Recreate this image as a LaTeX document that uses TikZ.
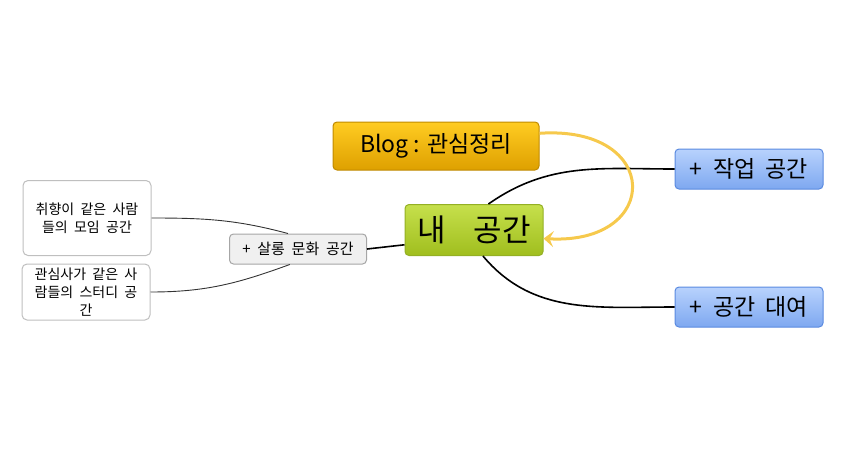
\documentclass[tikz,border=0pt]{standalone}
\usepackage{fontspec}
\setmainfont{Noto Sans CJK KR}
\usetikzlibrary{arrows.meta, positioning, calc}
\definecolor{topicline}{HTML}{94B024}
\definecolor{blogline}{HTML}{C08A00}
\definecolor{subline}{HTML}{5A8AE0}
\definecolor{relcolor}{HTML}{F6C94C}
\newcommand{\gap}{\hspace{0.45em}}

\tikzset{
  centerbox/.style={draw=topicline, line width=1pt, rounded corners=4pt, top color={rgb,255:red,198;green,224;blue,76}, bottom color={rgb,255:red,160;green,190;blue,30},
    minimum width=138pt, minimum height=51pt, inner sep=0pt, font=\fontsize{31}{34}\selectfont},
  blogbox/.style={draw=blogline, line width=1pt, rounded corners=4pt, top color={rgb,255:red,255;green,204;blue,34}, bottom color={rgb,255:red,222;green,160;blue,0},
    minimum width=206pt, minimum height=48pt, inner sep=0pt, font=\fontsize{23}{26}\selectfont},
  topicbox/.style={draw=subline, line width=1pt, rounded corners=4pt, top color={rgb,255:red,184;green,210;blue,253}, bottom color={rgb,255:red,126;green,168;blue,240},
    minimum width=148pt, minimum height=40pt, inner sep=0pt, font=\fontsize{23}{26}\selectfont},
  salonbox/.style={draw=black!35, line width=1pt, rounded corners=4pt, fill=black!6,
    minimum width=137pt, minimum height=30pt, inner sep=0pt, font=\fontsize{15}{17}\selectfont},
  notebox/.style={draw=black!25, line width=1pt, rounded corners=5pt, fill=white, align=center,
    minimum width=128pt, inner sep=0pt, font=\fontsize{14}{18}\selectfont},
  branch/.style={line width=1.6pt, black},
  twig/.style={line width=0.9pt, black!80}
}

\begin{document}
\begin{tikzpicture}[x=1pt, y=-1pt]
  \useasboundingbox (0,0) rectangle (862,469);
  % nodes
  \node[centerbox] (space) at (474,230) {내\hspace{0.9em}공간};
  \node[blogbox] (blog) at (436,146) {Blog : 관심정리};
  \node[topicbox] (work) at (749,169) {+\gap 작업\gap 공간};
  \node[topicbox] (rent) at (749,307) {+\gap 공간\gap 대여};
  \node[salonbox] (salon) at (298,249) {+\gap 살롱\gap 문화\gap 공간};
  \node[notebox, minimum height=75pt] (taste) at (87,218) {취향이\gap 같은\gap 사람\\들의\gap 모임\gap 공간};
  \node[notebox, minimum height=56pt] (interest) at (86,292) {관심사가\gap 같은\gap 사\\람들의\gap 스터디\gap 공\\간};
  % branches
  \draw[branch] (space.61) to[out=35, in=180] (work.west);
  \draw[branch] (space.-71) to[out=-50, in=180] (rent.west);
  \draw[branch] (space.192) -- (salon.east);
  \draw[twig] (salon.123) to[out=165, in=0] (taste.east);
  \draw[twig] (salon.-118) to[out=200, in=0] (interest.east);
  % relation arrow
  \draw[relcolor, line width=3pt, -{Stealth[length=10pt, width=16pt, inset=4pt]}]
    (blog.7) .. controls (662,125) and (662,245) .. (space.-7);
\end{tikzpicture}
\end{document}
